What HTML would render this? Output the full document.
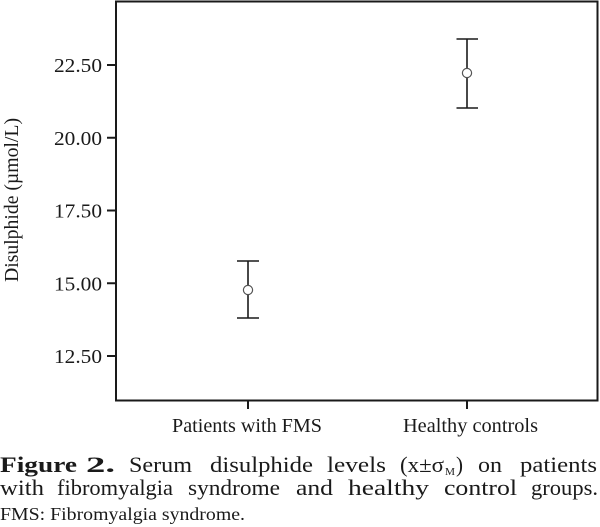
<!DOCTYPE html>
<html>
<head>
<meta charset="utf-8">
<style>
  html, body { margin: 0; padding: 0; background: #ffffff; }
  body { width: 600px; height: 527px; overflow: hidden; }
  svg { display: block; }
  text { font-family: "Liberation Serif", "DejaVu Serif", serif; fill: #1a1a1a; }
</style>
</head>
<body>
<svg width="600" height="527" viewBox="0 0 600 527" xmlns="http://www.w3.org/2000/svg">
  <rect x="0" y="0" width="600" height="527" fill="#ffffff"/>

  <!-- plot frame -->
  <rect x="116" y="1.5" width="481.5" height="399" fill="none" stroke="#1a1a1a" stroke-width="2"/>

  <!-- y ticks -->
  <g stroke="#1a1a1a" stroke-width="2">
    <line x1="107" y1="65" x2="116" y2="65"/>
    <line x1="107" y1="137.75" x2="116" y2="137.75"/>
    <line x1="107" y1="210.5" x2="116" y2="210.5"/>
    <line x1="107" y1="283.25" x2="116" y2="283.25"/>
    <line x1="107" y1="356" x2="116" y2="356"/>
  </g>
  <!-- x ticks -->
  <g stroke="#1a1a1a" stroke-width="2">
    <line x1="248" y1="400" x2="248" y2="409"/>
    <line x1="467" y1="400" x2="467" y2="409"/>
  </g>

  <!-- y tick labels -->
  <g font-size="20" text-anchor="end">
    <text x="102" y="72" textLength="48" lengthAdjust="spacingAndGlyphs">22.50</text>
    <text x="102" y="144.75" textLength="48" lengthAdjust="spacingAndGlyphs">20.00</text>
    <text x="102" y="217.5" textLength="48" lengthAdjust="spacingAndGlyphs">17.50</text>
    <text x="102" y="290.25" textLength="48" lengthAdjust="spacingAndGlyphs">15.00</text>
    <text x="102" y="363" textLength="48" lengthAdjust="spacingAndGlyphs">12.50</text>
  </g>

  <!-- y axis title -->
  <text transform="translate(18,200) rotate(-90)" font-size="19.5" text-anchor="middle" textLength="164" lengthAdjust="spacingAndGlyphs">Disulphide (µmol/L)</text>

  <!-- x labels -->
  <text x="172" y="432" font-size="20.5" textLength="150" lengthAdjust="spacingAndGlyphs">Patients with FMS</text>
  <text x="403" y="432" font-size="20.5" textLength="135" lengthAdjust="spacingAndGlyphs">Healthy controls</text>

  <!-- error bars -->
  <g stroke="#1a1a1a" stroke-width="1.6" fill="none">
    <line x1="248" y1="261" x2="248" y2="318"/>
    <line x1="237" y1="261" x2="259" y2="261"/>
    <line x1="237" y1="318" x2="259" y2="318"/>
    <line x1="467" y1="39" x2="467" y2="108"/>
    <line x1="456.5" y1="39" x2="478" y2="39"/>
    <line x1="456.5" y1="108" x2="478" y2="108"/>
  </g>
  <circle cx="248" cy="290" r="4.6" fill="#ffffff" stroke="#555555" stroke-width="1.2"/>
  <circle cx="467" cy="73" r="4.6" fill="#ffffff" stroke="#555555" stroke-width="1.2"/>

  <!-- caption line 1 -->
  <g font-size="22">
    <text x="0" y="472" font-weight="bold" textLength="77" lengthAdjust="spacingAndGlyphs">Figure</text>
    <text x="86" y="472" font-weight="bold" textLength="29" lengthAdjust="spacingAndGlyphs">2.</text>
    <text x="129" y="472" textLength="63" lengthAdjust="spacingAndGlyphs">Serum</text>
    <text x="210" y="472" textLength="103" lengthAdjust="spacingAndGlyphs">disulphide</text>
    <text x="327" y="472" textLength="59" lengthAdjust="spacingAndGlyphs">levels</text>
    <text x="400" y="472" textLength="44" lengthAdjust="spacingAndGlyphs">(x±σ</text>
    <text x="445" y="475" font-size="11" textLength="10" lengthAdjust="spacingAndGlyphs">M</text>
    <text x="456" y="472" textLength="7" lengthAdjust="spacingAndGlyphs">)</text>
    <text x="478" y="472" textLength="24" lengthAdjust="spacingAndGlyphs">on</text>
    <text x="520" y="472" textLength="77" lengthAdjust="spacingAndGlyphs">patients</text>
  </g>

  <!-- caption line 2 -->
  <g font-size="22">
    <text x="0" y="495" textLength="44" lengthAdjust="spacingAndGlyphs">with</text>
    <text x="57" y="495" textLength="116" lengthAdjust="spacingAndGlyphs">fibromyalgia</text>
    <text x="188" y="495" textLength="92" lengthAdjust="spacingAndGlyphs">syndrome</text>
    <text x="296" y="495" textLength="37" lengthAdjust="spacingAndGlyphs">and</text>
    <text x="348" y="495" textLength="81" lengthAdjust="spacingAndGlyphs">healthy</text>
    <text x="444" y="495" textLength="73" lengthAdjust="spacingAndGlyphs">control</text>
    <text x="531" y="495" textLength="67" lengthAdjust="spacingAndGlyphs">groups.</text>
  </g>

  <!-- caption line 3 -->
  <text x="0" y="520" font-size="18" textLength="245" lengthAdjust="spacingAndGlyphs">FMS: Fibromyalgia syndrome.</text>
</svg>
</body>
</html>
